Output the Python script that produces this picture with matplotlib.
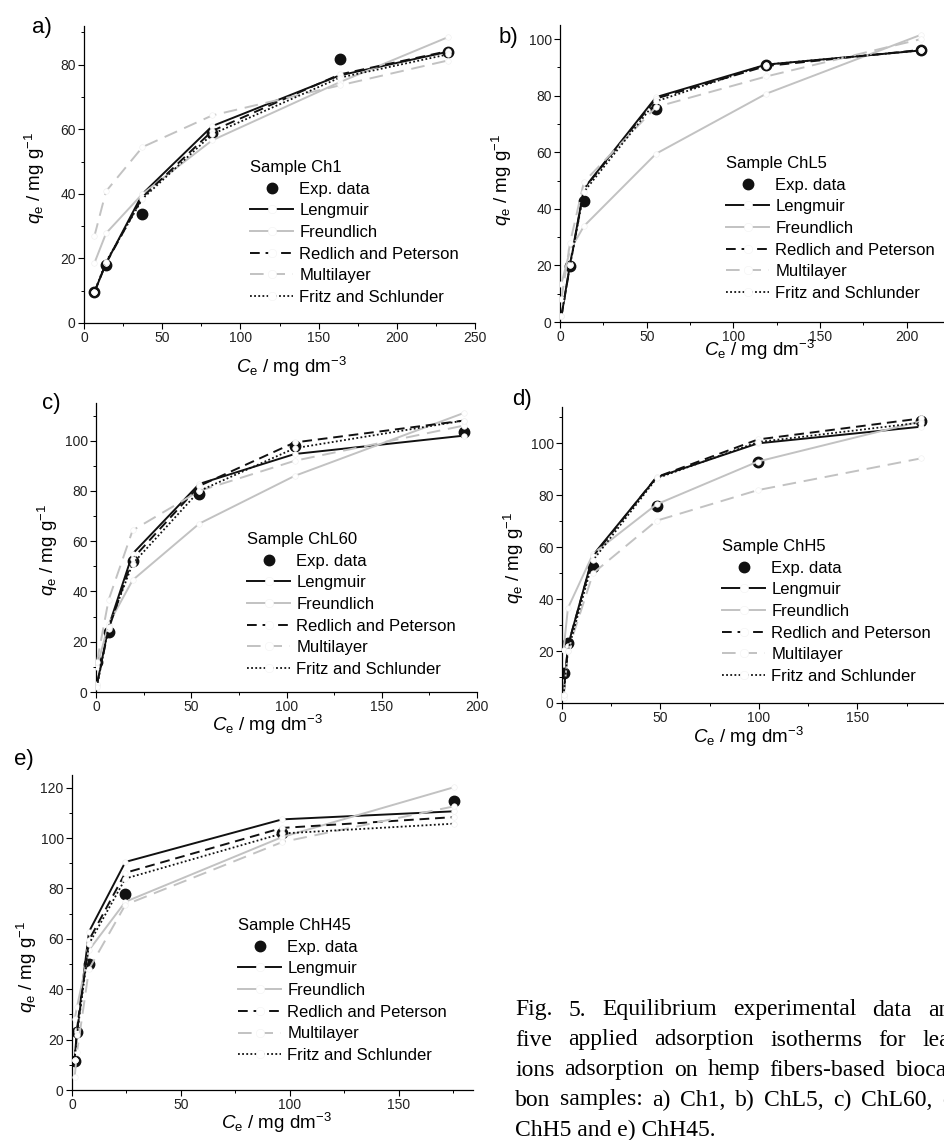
import numpy as np
import matplotlib
matplotlib.use('Agg')
import matplotlib.pyplot as plt
from matplotlib.lines import Line2D
from matplotlib.ticker import MultipleLocator

plt.rcParams['font.family'] = ['Liberation Sans', 'DejaVu Sans']
plt.rcParams['mathtext.fontset'] = 'custom'
plt.rcParams['mathtext.rm'] = 'Liberation Sans'
plt.rcParams['mathtext.it'] = 'Liberation Sans:italic'
plt.rcParams['mathtext.bf'] = 'Liberation Sans:bold'

# ---- data (Ce in mg dm-3, qe in mg g-1) ----
samples = ['Ch1', 'ChL5', 'ChL60', 'ChH5', 'ChH45']
panel_tags = ['a)', 'b)', 'c)', 'd)', 'e)']

ce_a = [6.6, 14.1, 37.4, 82.0, 163.5, 232.5]
exp_a = [9.5, 18.0, 33.7, 59.0, 81.9, 83.9]
lang_a = [9.5, 18.5, 40.0, 61.0, 76.7, 84.0]
freu_a = [18.5, 27.8, 40.0, 56.6, 74.6, 88.5]
rp_a = [9.5, 18.5, 39.0, 59.5, 77.0, 84.2]
multi_a = [26.8, 40.8, 54.5, 64.3, 73.6, 81.3]
fritz_a = [9.5, 19.0, 38.5, 58.5, 76.0, 83.2]

ce_b = [0.8, 5.8, 13.8, 55.4, 118.9, 208.0]
exp_b = [np.nan, 19.9, 42.8, 75.2, 91.0, 96.2]
lang_b = [2.0, 20.5, 47.2, 79.5, 91.0, 96.0]
freu_b = [13.5, 25.4, 33.9, 59.5, 80.7, 101.5]
rp_b = [2.0, 20.0, 47.0, 79.0, 90.5, 96.2]
multi_b = [8.0, 28.0, 49.5, 76.0, 86.8, 100.0]
fritz_b = [2.0, 20.0, 46.0, 78.0, 91.0, 96.0]

ce_c = [0.5, 6.6, 19.2, 54.2, 104.3, 193.0]
exp_c = [12.0, 24.0, 52.2, 78.9, 98.0, 103.6]
lang_c = [2.9, 26.0, 55.0, 82.8, 94.7, 102.0]
freu_c = [10.0, 27.0, 44.5, 67.0, 86.0, 111.0]
rp_c = [3.0, 25.0, 53.0, 82.0, 99.3, 108.0]
multi_c = [12.0, 36.6, 64.3, 80.0, 92.0, 106.0]
fritz_c = [2.0, 26.0, 51.0, 80.0, 97.0, 108.0]

ce_d = [0.8, 3.0, 15.8, 48.0, 99.5, 182.2]
exp_d = [11.5, 23.3, 52.3, 75.9, 92.9, 108.6]
lang_d = [3.0, 22.0, 57.0, 86.9, 100.0, 106.4]
freu_d = [20.5, 36.5, 57.5, 76.5, 93.0, 108.5]
rp_d = [3.0, 22.0, 56.5, 87.0, 101.5, 109.6]
multi_d = [2.0, 20.0, 50.0, 70.2, 82.0, 94.2]
fritz_d = [3.0, 20.0, 55.0, 86.5, 100.5, 108.0]

ce_e = [1.2, 2.3, 7.8, 24.5, 96.5, 175.5]
exp_e = [11.6, 23.1, 50.0, 77.6, 101.8, 114.6]
lang_e = [12.0, 24.0, 62.8, 90.5, 107.4, 110.6]
freu_e = [28.0, 33.0, 55.5, 74.7, 100.4, 120.2]
rp_e = [12.0, 23.0, 59.5, 86.2, 104.0, 108.3]
multi_e = [5.0, 15.0, 48.0, 73.5, 98.4, 112.6]
fritz_e = [12.0, 22.0, 58.0, 83.9, 101.8, 105.7]

model_names = ['Lengmuir', 'Freundlich', 'Redlich and Peterson', 'Multilayer', 'Fritz and Schlunder']
caption_lines = ['Fig. 5. Equilibrium experimental data and',
                 'five applied adsorption isotherms for lead',
                 'ions adsorption on hemp fibers-based biocar-',
                 'bon samples: a) Ch1, b) ChL5, c) ChL60, d)',
                 'ChH5 and e) ChH45.']

panels = [
    (ce_a, exp_a, [lang_a, freu_a, rp_a, multi_a, fritz_a]),
    (ce_b, exp_b, [lang_b, freu_b, rp_b, multi_b, fritz_b]),
    (ce_c, exp_c, [lang_c, freu_c, rp_c, multi_c, fritz_c]),
    (ce_d, exp_d, [lang_d, freu_d, rp_d, multi_d, fritz_d]),
    (ce_e, exp_e, [lang_e, freu_e, rp_e, multi_e, fritz_e]),
]

# ---- layout (pixels) ----
W, H = 944, 1140
fig = plt.figure(figsize=(W / 100, H / 100), dpi=100)


def fpos(x, y):
    return x / W, 1 - y / H


boxes = [(84, 26, 475, 323), (560, 25, 945, 322), (96, 403, 477, 692),
         (562, 407, 946, 703), (72, 775, 473, 1090)]
xlims = [250, 222, 200, 195, 184]
ylims = [92, 105, 115, 114, 125]
legend_xy = [(250, 160), (726, 156), (247, 532), (722, 539), (238, 918)]
ylab_xy = [(35, 178), (502, 180), (48, 550), (514, 558), (27, 967)]
xlab_xy = [(291, 367), (759, 350), (267, 725), (748, 737), (276, 1123)]
tag_xy = [(42, 28), (508, 37), (51, 403), (522, 399), (24, 760)]

black = '#111111'
gray = '#c2c2c2'
styles = [
    dict(color=black, ls='-', lw=1.4),
    dict(color=gray, ls='-', lw=1.4),
    dict(color=black, ls=(0, (5, 3)), lw=1.4),
    dict(color=gray, ls=(0, (7, 4)), lw=1.4),
    dict(color=black, ls=(0, (1, 1.3)), lw=1.3),
]
mk = dict(marker='o', ms=4, mfc='white', mec='#eeeeee', mew=0.4)

# legend entries: line broken in the middle by a small open symbol
leg_handles = [Line2D([], [], ls='none', marker='o', color=black, ms=7.5)]
for st in styles:
    leg_handles.append(Line2D([], [], marker='o', ms=6, mfc='white',
                              mec='#f2f2f2', mew=0.4, **st))

for i, (ce, q_exp, fits) in enumerate(panels):
    l, t, r, b = boxes[i]
    ax = fig.add_axes([l / W, 1 - b / H, (r - l) / W, (b - t) / H])
    ax.plot(ce, q_exp, 'o', color=black, ms=7.5, zorder=2)
    for fit, st in zip(fits, styles):
        ax.plot(ce, fit, zorder=3, **st, **mk)
    ax.set_xlim(0, xlims[i])
    ax.set_ylim(0, ylims[i])
    ax.xaxis.set_major_locator(MultipleLocator(50))
    ax.xaxis.set_minor_locator(MultipleLocator(25))
    ax.yaxis.set_major_locator(MultipleLocator(20))
    ax.yaxis.set_minor_locator(MultipleLocator(10))
    ax.spines['top'].set_visible(False)
    ax.spines['right'].set_visible(False)
    for s in ['left', 'bottom']:
        ax.spines[s].set_linewidth(0.9)
    ax.tick_params(which='major', direction='out', length=4, width=0.8,
                   labelsize=10, pad=2, labelcolor='#222222')
    ax.tick_params(which='minor', direction='out', length=2.5, width=0.7)
    ax.patch.set_alpha(0)

    ax.legend(leg_handles, ['Exp. data'] + model_names, title='Sample ' + samples[i],
              loc='upper left', bbox_to_anchor=fpos(*legend_xy[i]),
              bbox_transform=fig.transFigure, frameon=False, fontsize=12,
              title_fontsize=12, handlelength=2.6, handletextpad=0.35,
              labelspacing=0.4, borderpad=0, borderaxespad=0,
              alignment='left', numpoints=1)

    fig.text(*fpos(*ylab_xy[i]), r'$q_{\mathrm{e}}$ / mg g$^{-1}$', rotation=90,
             ha='center', va='center', fontsize=13.5)
    fig.text(*fpos(*xlab_xy[i]), r'$C_{\mathrm{e}}$ / mg dm$^{-3}$',
             ha='center', va='center', fontsize=13.5)
    fig.text(*fpos(*tag_xy[i]), panel_tags[i], ha='center', va='center', fontsize=16)

# caption, justified like the printed page
renderer = fig.canvas.get_renderer()
x0, x1 = 515, 962
for i, line in enumerate(caption_lines):
    y = 1 - (1010 + 30 * i) / H
    if i == len(caption_lines) - 1:
        fig.text(x0 / W, y, line, fontsize=17, family='Liberation Serif', va='center')
        continue
    words = line.split()
    texts = [fig.text(0, y, w, fontsize=17, family='Liberation Serif', va='center') for w in words]
    widths = [tx.get_window_extent(renderer).width for tx in texts]
    gap = (x1 - x0 - sum(widths)) / (len(words) - 1)
    x = x0
    for tx, wd in zip(texts, widths):
        tx.set_x(x / W)
        x += wd + gap

fig.savefig('out.png', dpi=100)
